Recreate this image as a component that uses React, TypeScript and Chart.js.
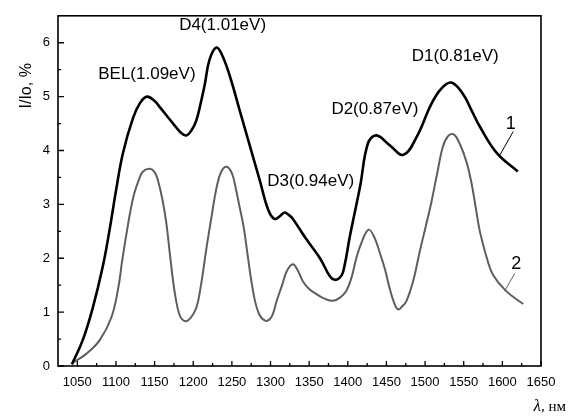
import { useEffect, useRef } from 'react';
import { Chart, registerables } from 'chart.js';

Chart.register(...registerables);

// Series 1 (black)
const wavelength1 = [1043, 1057, 1070, 1083, 1092, 1100, 1109, 1122, 1131, 1140, 1150, 1157, 1174, 1184, 1191, 1198, 1204, 1210, 1215, 1221, 1230, 1238, 1248, 1260, 1273, 1286, 1297, 1305, 1312, 1318, 1324, 1329, 1346, 1364, 1377, 1383, 1389, 1394, 1403, 1416, 1426, 1437, 1454, 1472, 1489, 1508, 1521, 1534, 1549, 1560, 1571, 1593, 1620];
const intensity1 = [0.03, 0.48, 1.08, 1.85, 2.55, 3.25, 3.95, 4.6, 4.88, 5.0, 4.92, 4.8, 4.5, 4.33, 4.28, 4.38, 4.56, 4.9, 5.23, 5.68, 5.91, 5.75, 5.35, 4.75, 4.1, 3.45, 2.9, 2.73, 2.78, 2.85, 2.8, 2.73, 2.36, 2.0, 1.66, 1.6, 1.63, 1.75, 2.43, 3.34, 4.13, 4.28, 4.1, 3.92, 4.25, 4.86, 5.15, 5.26, 5.05, 4.75, 4.44, 3.95, 3.61];

// Series 2 (grey)
const wavelength2 = [1043, 1062, 1079, 1094, 1103, 1108, 1114, 1119, 1124, 1130, 1135, 1144, 1150, 1154, 1160, 1165, 1170, 1174, 1178, 1182, 1186, 1191, 1197, 1204, 1210, 1217, 1224, 1230, 1236, 1243, 1250, 1255, 1260, 1265, 1270, 1275, 1280, 1285, 1290, 1296, 1302, 1308, 1315, 1321, 1329, 1335, 1342, 1350, 1360, 1370, 1381, 1390, 1398, 1405, 1411, 1418, 1427, 1434, 1441, 1448, 1454, 1460, 1465, 1470, 1476, 1485, 1493, 1501, 1508, 1516, 1523, 1530, 1537, 1545, 1554, 1560, 1566, 1571, 1580, 1588, 1605, 1627];
const intensity2 = [0.05, 0.23, 0.48, 0.9, 1.45, 1.95, 2.49, 2.9, 3.22, 3.47, 3.61, 3.66, 3.6, 3.46, 3.1, 2.67, 2.05, 1.57, 1.2, 0.96, 0.86, 0.83, 0.9, 1.08, 1.5, 2.18, 2.8, 3.3, 3.6, 3.7, 3.58, 3.3, 2.95, 2.6, 2.1, 1.6, 1.2, 0.97, 0.87, 0.84, 0.93, 1.21, 1.5, 1.76, 1.89, 1.78, 1.57, 1.43, 1.33, 1.25, 1.21, 1.27, 1.39, 1.65, 2.0, 2.3, 2.53, 2.4, 2.12, 1.8, 1.45, 1.17, 1.05, 1.1, 1.21, 1.6, 2.12, 2.6, 3.03, 3.6, 4.07, 4.27, 4.3, 4.12, 3.77, 3.4, 2.9, 2.49, 2.0, 1.69, 1.39, 1.15];

const xTicks = [1050, 1100, 1150, 1200, 1250, 1300, 1350, 1400, 1450, 1500, 1550, 1600, 1650];
const yTicks = [0, 1, 2, 3, 4, 5, 6];

const peakLabels = ['BEL(1.09eV)', 'D4(1.01eV)', 'D3(0.94eV)', 'D2(0.87eV)', 'D1(0.81eV)'];
const peakLabelX = [1140, 1238, 1352, 1435, 1539];
const peakLabelY = [5.41, 6.33, 3.42, 4.77, 5.74];

const curveLabels = ['1', '2'];
const curveLabelX = [1611, 1618];
const curveLabelY = [4.5, 1.9];
const leaderFromX = [1614, 1616];
const leaderFromY = [4.35, 1.72];
const leaderToX = [1597, 1603];
const leaderToY = [3.92, 1.39];

const SANS = '"Liberation Sans", Arial, sans-serif';
const SERIF = '"Liberation Serif", "Times New Roman", serif';
const GREY = '#5e5e5e';

const decor = {
  id: 'decor',
  afterDraw(chart: any) {
    const { ctx, chartArea: a } = chart;
    const x = chart.scales.x;
    const y = chart.scales.y;
    ctx.save();
    // frame
    ctx.strokeStyle = '#000';
    ctx.lineWidth = 1.6;
    ctx.strokeRect(a.left, a.top, a.right - a.left, a.bottom - a.top);
    // ticks (inward)
    ctx.lineWidth = 1.3;
    ctx.beginPath();
    xTicks.forEach((v, i) => {
      const px = x.getPixelForValue(v);
      ctx.moveTo(px, a.bottom);
      ctx.lineTo(px, a.bottom - 5);
      if (i < xTicks.length - 1) {
        const m = x.getPixelForValue((v + xTicks[i + 1]) / 2);
        ctx.moveTo(m, a.bottom);
        ctx.lineTo(m, a.bottom - 3);
      }
    });
    yTicks.forEach((v, i) => {
      const py = y.getPixelForValue(v);
      ctx.moveTo(a.left, py);
      ctx.lineTo(a.left + 6, py);
      if (i < yTicks.length - 1) {
        const m = y.getPixelForValue((v + yTicks[i + 1]) / 2);
        ctx.moveTo(a.left, m);
        ctx.lineTo(a.left + 3, m);
      }
    });
    ctx.stroke();

    // peak labels
    ctx.fillStyle = '#000';
    ctx.font = `17px ${SANS}`;
    ctx.textAlign = 'center';
    ctx.textBaseline = 'middle';
    peakLabels.forEach((t, i) => {
      ctx.fillText(t, x.getPixelForValue(peakLabelX[i]), y.getPixelForValue(peakLabelY[i]));
    });

    // curve number labels and leaders
    ctx.font = `18px ${SANS}`;
    curveLabels.forEach((t, i) => {
      ctx.fillStyle = '#000';
      ctx.fillText(t, x.getPixelForValue(curveLabelX[i]), y.getPixelForValue(curveLabelY[i]));
      ctx.strokeStyle = i === 0 ? '#000' : GREY;
      ctx.lineWidth = 1;
      ctx.beginPath();
      ctx.moveTo(x.getPixelForValue(leaderFromX[i]), y.getPixelForValue(leaderFromY[i]));
      ctx.lineTo(x.getPixelForValue(leaderToX[i]), y.getPixelForValue(leaderToY[i]));
      ctx.stroke();
    });

    // y title
    ctx.save();
    ctx.translate(a.left - 31, a.top + 70);
    ctx.rotate(-Math.PI / 2);
    ctx.font = `16px ${SANS}`;
    ctx.fillStyle = '#000';
    ctx.textAlign = 'center';
    ctx.textBaseline = 'middle';
    ctx.fillText('I/Io, %', 0, 0);
    ctx.restore();

    // x title
    ctx.textBaseline = 'alphabetic';
    ctx.textAlign = 'right';
    ctx.font = `15px ${SERIF}`;
    const rest = ', нм';
    const rx = a.right + 25;
    const by = a.bottom + 45;
    ctx.fillText(rest, rx, by);
    const w = ctx.measureText(rest).width;
    ctx.font = `italic 17px ${SERIF}`;
    ctx.fillText('λ', rx - w, by);
    ctx.restore();
  },
};

export default function App() {
  const ref = useRef<HTMLCanvasElement>(null);
  useEffect(() => {
    if (!ref.current) return;
    const chart = new Chart(ref.current, {
      type: 'scatter',
      data: {
        datasets: [
          {
            data: wavelength1.map((v, i) => ({ x: v, y: intensity1[i] })),
            showLine: true,
            borderColor: '#000',
            borderWidth: 2.6,
            pointRadius: 0,
            tension: 0.4,
          },
          {
            data: wavelength2.map((v, i) => ({ x: v, y: intensity2[i] })),
            showLine: true,
            borderColor: GREY,
            borderWidth: 2,
            pointRadius: 0,
            tension: 0.4,
          },
        ],
      },
      options: {
        animation: false,
        responsive: true,
        maintainAspectRatio: false,
        layout: { padding: { top: 10, right: 28, left: 0, bottom: 0 } },
        plugins: { legend: { display: false }, tooltip: { enabled: false } },
        scales: {
          x: {
            type: 'linear',
            min: 1025,
            max: 1650,
            grid: { display: false, drawTicks: false },
            border: { display: false },
            ticks: {
              autoSkip: false,
              maxRotation: 0,
              padding: 9,
              color: '#000',
              font: { family: SANS, size: 13 },
              callback: (v: any) => String(v),
            },
            afterBuildTicks: (s: any) => {
              s.ticks = xTicks.map((v) => ({ value: v }));
            },
            afterFit: (s: any) => {
              s.height = 52;
            },
          },
          y: {
            type: 'linear',
            min: 0,
            max: 6.5,
            grid: { display: false, drawTicks: false },
            border: { display: false },
            ticks: {
              autoSkip: false,
              padding: 8,
              color: '#000',
              font: { family: SANS, size: 13 },
              callback: (v: any) => String(v),
            },
            afterBuildTicks: (s: any) => {
              s.ticks = yTicks.map((v) => ({ value: v }));
            },
            afterFit: (s: any) => {
              s.width = 58;
            },
          },
        },
      },
      plugins: [decor],
    } as any);
    return () => chart.destroy();
  }, []);
  return (
    <div style={{ position: 'fixed', left: 0, top: 0, width: 569, height: 418, background: '#fff' }}>
      <canvas ref={ref} />
    </div>
  );
}
